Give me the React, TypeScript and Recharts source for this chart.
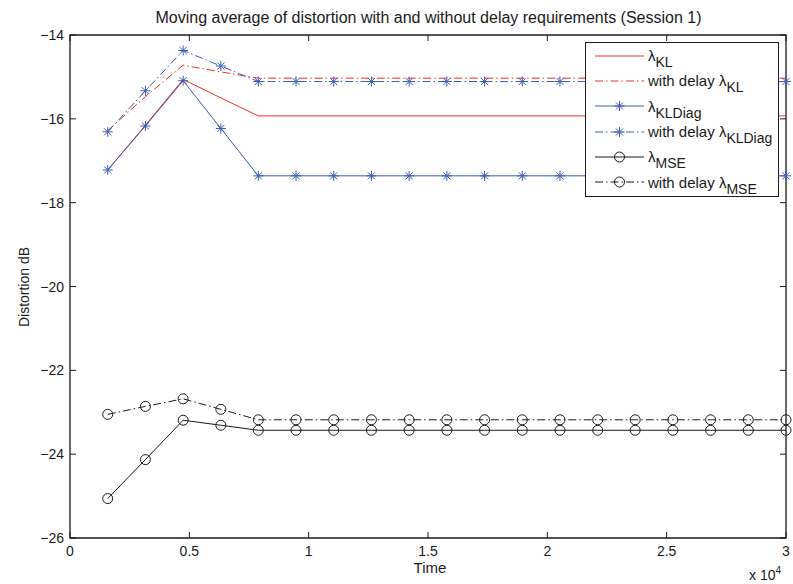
import { LineChart, Line, XAxis, YAxis, Legend, ReferenceArea } from "recharts";

const timeSteps = [
  0.158, 0.316, 0.474, 0.632, 0.789, 0.947, 1.105, 1.263, 1.421, 1.579,
  1.737, 1.895, 2.053, 2.211, 2.368, 2.526, 2.684, 2.842, 3.0,
];

const klValues = [
  -17.22, -16.15, -15.06, -15.5, -15.93, -15.93, -15.93, -15.93, -15.93, -15.93,
  -15.93, -15.93, -15.93, -15.93, -15.93, -15.93, -15.93, -15.93, -15.93,
];
const klDelayValues = [
  -16.28, -15.47, -14.72, -14.88, -15.03, -15.03, -15.03, -15.03, -15.03, -15.03,
  -15.03, -15.03, -15.03, -15.03, -15.03, -15.03, -15.03, -15.03, -15.03,
];
const klDiagValues = [
  -17.22, -16.17, -15.09, -16.23, -17.36, -17.36, -17.36, -17.36, -17.36, -17.36,
  -17.36, -17.36, -17.36, -17.36, -17.36, -17.36, -17.36, -17.36, -17.36,
];
const klDiagDelayValues = [
  -16.31, -15.33, -14.37, -14.74, -15.11, -15.11, -15.11, -15.11, -15.11, -15.11,
  -15.11, -15.11, -15.11, -15.11, -15.11, -15.11, -15.11, -15.11, -15.11,
];
const mseValues = [
  -25.06, -24.13, -23.19, -23.31, -23.43, -23.43, -23.43, -23.43, -23.43, -23.43,
  -23.43, -23.43, -23.43, -23.43, -23.43, -23.43, -23.43, -23.43, -23.43,
];
const mseDelayValues = [
  -23.05, -22.86, -22.68, -22.93, -23.18, -23.18, -23.18, -23.18, -23.18, -23.18,
  -23.18, -23.18, -23.18, -23.18, -23.18, -23.18, -23.18, -23.18, -23.18,
];

const xTicks = [0, 0.5, 1, 1.5, 2, 2.5, 3];
const yTicks = [-26, -24, -22, -20, -18, -16, -14];

const data = timeSteps.map((t, i) => ({
  t,
  kl: klValues[i],
  klDelay: klDelayValues[i],
  klDiag: klDiagValues[i],
  klDiagDelay: klDiagDelayValues[i],
  mse: mseValues[i],
  mseDelay: mseDelayValues[i],
}));

const RED = "#f22c2c";
const BLUE = "#3d5cb0";
const BLACK = "#1a1a1a";
const DASH_DOT = "8 3 1.5 3";
const FONT = "'Liberation Sans', Arial, Helvetica, sans-serif";

const WIDTH = 793;
const HEIGHT = 584;
const MARGIN = { top: 35, right: 7, bottom: 16, left: 10 };
const PLOT_TOP = MARGIN.top;
const PLOT_RIGHT = WIDTH - MARGIN.right;
const TICK_LEN = 6;

const fmt = (v: number) => String(v).replace("-", "\u2212");

function StarDot(props: any) {
  const { cx, cy, stroke } = props;
  if (cx == null || cy == null) return null;
  const r = 5;
  const d = r * 0.707;
  return (
    <g stroke={stroke} strokeWidth={1}>
      <line x1={cx - r} y1={cy} x2={cx + r} y2={cy} />
      <line x1={cx} y1={cy - r} x2={cx} y2={cy + r} />
      <line x1={cx - d} y1={cy - d} x2={cx + d} y2={cy + d} />
      <line x1={cx - d} y1={cy + d} x2={cx + d} y2={cy - d} />
    </g>
  );
}

function CircleDot(props: any) {
  const { cx, cy, stroke } = props;
  if (cx == null || cy == null) return null;
  return <circle cx={cx} cy={cy} r={5} fill="none" stroke={stroke} strokeWidth={1} />;
}

// inward ticks on all four sides of the box, labels only bottom/left
function BottomTick({ x, y, payload }: any) {
  return (
    <g>
      <line x1={x} y1={y} x2={x} y2={y - TICK_LEN} stroke={BLACK} />
      <line x1={x} y1={PLOT_TOP} x2={x} y2={PLOT_TOP + TICK_LEN} stroke={BLACK} />
      <text x={x} y={y + 18} textAnchor="middle" fontSize={14} fontFamily={FONT} fill={BLACK}>
        {fmt(payload.value)}
      </text>
    </g>
  );
}
function LeftTick({ x, y, payload }: any) {
  return (
    <g>
      <line x1={x} y1={y} x2={x + TICK_LEN} y2={y} stroke={BLACK} />
      <line x1={PLOT_RIGHT} y1={y} x2={PLOT_RIGHT - TICK_LEN} y2={y} stroke={BLACK} />
      <text x={x - 6} y={y + 5} textAnchor="end" fontSize={14} fontFamily={FONT} fill={BLACK}>
        {fmt(payload.value)}
      </text>
    </g>
  );
}

const legendRows = [
  { label: "", sub: "KL", color: RED, dash: undefined, marker: null },
  { label: "with delay ", sub: "KL", color: RED, dash: DASH_DOT, marker: null },
  { label: "", sub: "KLDiag", color: BLUE, dash: undefined, marker: "star" },
  { label: "with delay ", sub: "KLDiag", color: BLUE, dash: DASH_DOT, marker: "star" },
  { label: "", sub: "MSE", color: BLACK, dash: undefined, marker: "circle" },
  { label: "with delay ", sub: "MSE", color: BLACK, dash: DASH_DOT, marker: "circle" },
];

function LegendBox() {
  return (
    <div
      style={{
        border: `1px solid ${BLACK}`,
        background: "#fff",
        padding: 0,
        fontFamily: FONT,
        fontSize: 15,
        color: BLACK,
        boxSizing: "border-box",
        width: 194,
        height: 155,
      }}
    >
      {legendRows.map((row, i) => (
        <div key={i} style={{ display: "flex", alignItems: "center", height: 25.3 }}>
          <svg width={62} height={20} style={{ flex: "none" }}>
            <line x1={9} y1={10} x2={58} y2={10} stroke={row.color} strokeDasharray={row.dash} />
            {row.marker === "star" && <StarDot cx={33.5} cy={10} stroke={row.color} />}
            {row.marker === "circle" && <CircleDot cx={33.5} cy={10} stroke={row.color} />}
          </svg>
          <span style={{ whiteSpace: "nowrap", lineHeight: "17px" }}>
            {row.label}λ
            <sub style={{ fontSize: 14, verticalAlign: "-6px", lineHeight: 0 }}>{row.sub}</sub>
          </span>
        </div>
      ))}
    </div>
  );
}

export default function App() {
  return (
    <div style={{ position: "absolute", left: 0, top: 0, width: WIDTH, height: HEIGHT, background: "#fff", fontFamily: FONT }}>
      <div style={{ position: "absolute", left: 0, width: 857, top: 9, textAlign: "center", fontSize: 16, color: BLACK }}>
        Moving average of distortion with and without delay requirements (Session 1)
      </div>
      <div
        style={{
          position: "absolute",
          left: 24,
          top: 287,
          transform: "translate(-50%, -50%) rotate(-90deg)",
          fontSize: 14,
          whiteSpace: "nowrap",
          color: BLACK,
        }}
      >
        Distortion dB
      </div>
      <div
        style={{
          position: "absolute",
          left: 0,
          width: 860,
          top: 561,
          textAlign: "center",
          fontSize: 15,
          lineHeight: "14px",
          color: BLACK,
        }}
      >
        Time
      </div>
      <div style={{ position: "absolute", left: 749, top: 567, fontSize: 14, color: BLACK, whiteSpace: "nowrap" }}>
        x 10<sup style={{ fontSize: 10, verticalAlign: "6px", lineHeight: 0 }}>4</sup>
      </div>
      <LineChart width={WIDTH} height={HEIGHT} data={data} margin={MARGIN}>
        <XAxis
          xAxisId="bottom"
          dataKey="t"
          type="number"
          domain={[0, 3]}
          ticks={xTicks}
          height={30}
          tickSize={0}
          tickMargin={0}
          tickLine={false}
          tick={<BottomTick />}
          axisLine={false}
        />
        <YAxis
          yAxisId="left"
          type="number"
          domain={[-26, -14]}
          ticks={yTicks}
          width={60}
          tickSize={0}
          tickMargin={0}
          tickLine={false}
          tick={<LeftTick />}
          axisLine={false}
        />
        <ReferenceArea
          xAxisId="bottom"
          yAxisId="left"
          x1={0}
          x2={3}
          y1={-26}
          y2={-14}
          fill="none"
          fillOpacity={0}
          stroke={BLACK}
          strokeWidth={1.3}
          strokeOpacity={1}
        />
        <Line xAxisId="bottom" yAxisId="left" dataKey="kl" stroke={RED} strokeWidth={1} dot={false} isAnimationActive={false} />
        <Line xAxisId="bottom" yAxisId="left" dataKey="klDelay" stroke={RED} strokeWidth={1} strokeDasharray={DASH_DOT} dot={false} isAnimationActive={false} />
        <Line xAxisId="bottom" yAxisId="left" dataKey="klDiag" stroke={BLUE} strokeWidth={1} dot={<StarDot />} isAnimationActive={false} />
        <Line xAxisId="bottom" yAxisId="left" dataKey="klDiagDelay" stroke={BLUE} strokeWidth={1} strokeDasharray={DASH_DOT} dot={<StarDot />} isAnimationActive={false} />
        <Line xAxisId="bottom" yAxisId="left" dataKey="mse" stroke={BLACK} strokeWidth={1} dot={<CircleDot />} isAnimationActive={false} />
        <Line xAxisId="bottom" yAxisId="left" dataKey="mseDelay" stroke={BLACK} strokeWidth={1} strokeDasharray={DASH_DOT} dot={<CircleDot />} isAnimationActive={false} />
        <Legend
          layout="vertical"
          align="center"
          verticalAlign="middle"
          wrapperStyle={{ left: 585, top: 42, width: 194, height: 155 }}
          content={() => <LegendBox />}
        />
      </LineChart>
    </div>
  );
}
